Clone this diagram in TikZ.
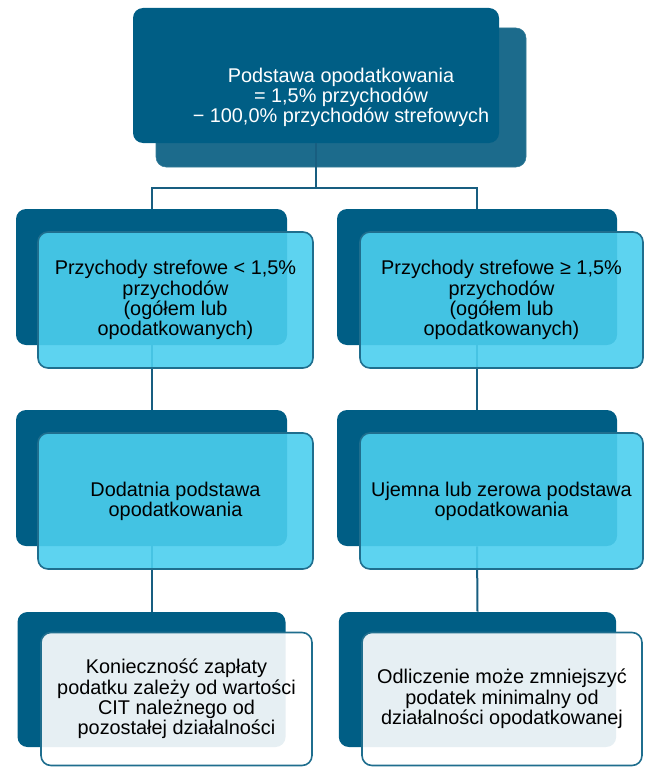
\documentclass[tikz,border=0pt]{standalone}
\usepackage{fontspec}
\setmainfont{Liberation Sans}
\usetikzlibrary{positioning}

\definecolor{navy}{HTML}{005E85}
\definecolor{steel}{HTML}{1C6B8C}
\definecolor{sky}{HTML}{4BCEEE}
\definecolor{rim}{HTML}{1F6E8E}
\definecolor{wire}{HTML}{185E80}

\begin{document}
\begin{tikzpicture}[
  x=0.75pt, y=-0.75pt,
  back/.style={fill=navy, rounded corners=7.5pt, minimum height=102pt, inner sep=0pt},
  front/.style={draw=rim, line width=1.2pt, fill=sky, fill opacity=0.9, text opacity=1,
    rounded corners=7.5pt, minimum height=102pt, align=center, inner sep=0pt,
    font=\fontsize{14.9}{15.2}\selectfont},
  note/.style={front, fill=white},
  link/.style={draw=wire, line width=1.5pt}
]
\useasboundingbox (0,0) rectangle (648,767);

% Top box
\node[fill=steel, draw=steel!90!white, rounded corners=7.5pt, minimum width=277.5pt, minimum height=104.25pt] (topback) at (341,97.5) {};
\node[fill=navy, rounded corners=7.5pt, minimum width=274.5pt, minimum height=101.25pt] (top) at (316,75.5) {};
\node[text=white, align=center, font=\fontsize{14.9}{15.2}\selectfont] (toptext) at (topback.center)
  {Podstawa opodatkowania\\= 1,5\% przychodów\\− 100,0\% przychodów strefowych};

% Back boxes
\node[back, minimum width=203.25pt] (lb1) at (151.5,277) {};
\node[back, minimum width=210pt] (rb1) at (477,277) {};
\node[back, minimum width=203.25pt] (lb2) at (151.5,478) {};
\node[back, minimum width=210pt] (rb2) at (477,478) {};
\node[back, minimum width=201pt, minimum height=101.25pt] (lb3) at (151.5,679.5) {};
\node[back, minimum width=208pt, minimum height=101.25pt] (rb3) at (477.5,679.5) {};

% Connectors
\coordinate (fork) at (316,188);
\draw[link] (top.south) -- (fork) -| (lb1.north);
\draw[link] (fork) -| (rb1.north);
\draw[link] (lb1.south) -- (lb2.north);
\draw[link] (lb2.south) -- (lb3.north);
\draw[link] (rb1.south) -- (rb2.north);
\draw[link] (rb2.south) -- (rb3.north);

% Front boxes
\node[front, minimum width=206.25pt] (lf1) at (175.5,300)
  {Przychody strefowe < 1,5\%\\przychodów\\(ogółem lub\\opodatkowanych)};
\node[front, minimum width=212.25pt] (rf1) at (501.5,300)
  {Przychody strefowe ≥ 1,5\%\\przychodów\\(ogółem lub\\opodatkowanych)};
\node[front, minimum width=206.25pt] (lf2) at (175.5,501)
  {Dodatnia podstawa\\opodatkowania};
\node[front, minimum width=212.25pt] (rf2) at (501.5,501)
  {Ujemna lub zerowa podstawa\\opodatkowania};
\node[note, minimum width=203.25pt, minimum height=99.75pt] (lf3) at (176.5,699)
  {Konieczność zapłaty\\podatku zależy od wartości\\CIT należnego od\\pozostałej działalności};
\node[note, minimum width=210pt, minimum height=99.75pt] (rf3) at (502,699)
  {Odliczenie może zmniejszyć\\podatek minimalny od\\działalności opodatkowanej};

\end{tikzpicture}
\end{document}
